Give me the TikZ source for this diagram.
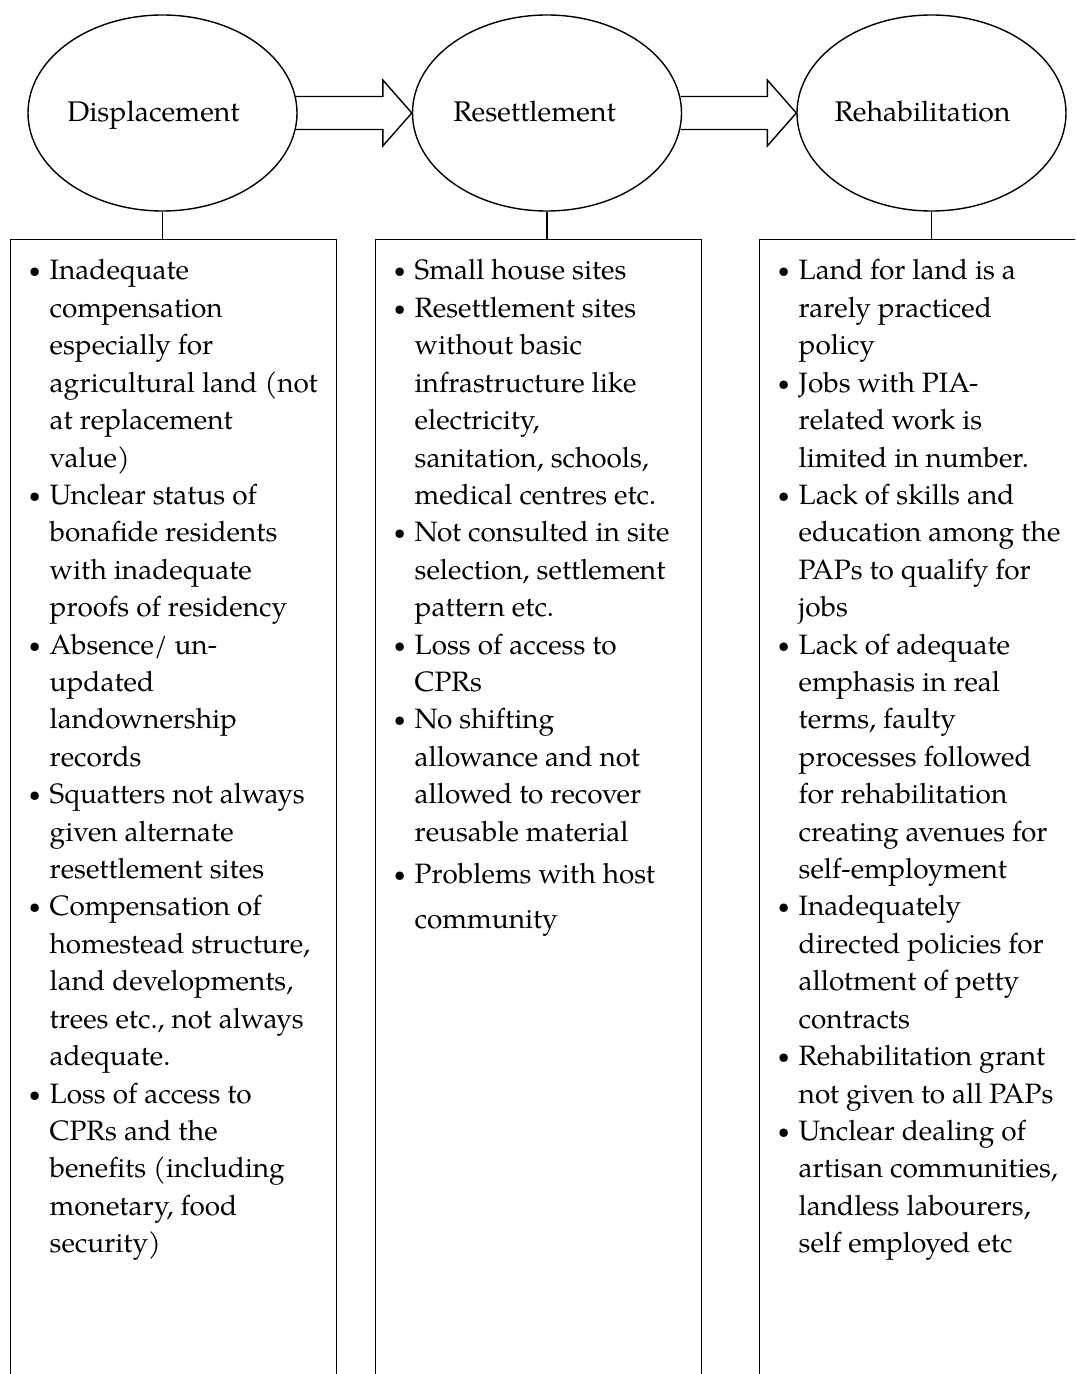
\documentclass[tikz,border=0pt]{standalone}
\usepackage{fontspec}
\setmainfont{TeX Gyre Pagella}
\usetikzlibrary{shapes.geometric,calc}
\newcommand{\bul}{\llap{\makebox[7.5pt][l]{\makebox[0pt][c]{\raisebox{1pt}{\fontsize{10.5}{10}\selectfont\textbullet}}}}}
\begin{document}
\begin{tikzpicture}[x=0.5pt,y=-0.5pt,line width=0.7pt,
  stage/.style={draw,ellipse,inner sep=0pt,minimum width=134.5pt,minimum height=98pt},
  stagetxt/.style={anchor=base,inner sep=0pt,font=\fontsize{14.2}{17}\selectfont},
  listbox/.style={draw,rectangle,anchor=north west,inner sep=0pt,minimum width=163pt,minimum height=600pt},
  bodytxt/.style={anchor=base west,inner sep=0pt,font=\fontsize{14}{17}\selectfont},
  blockarrow/.style={draw,line join=miter}]
\useasboundingbox (0,0) rectangle (1075,1374);
\clip (0,0) rectangle (1075,1374);
% stages
\node[stage] (e1) at (162.5,113) {};
\node[stage] (e2) at (547,113) {};
\node[stage] (e3) at (931.5,113) {};
\node[stagetxt] (t1) at ($(e1.center)+(-9,9)$) {Displacement};
\node[stagetxt] (t2) at ($(e2.center)+(-12.5,9)$) {Resettlement};
\node[stagetxt] (t3) at ($(e3.center)+(-9,9)$) {Rehabilitation};
% block arrows
\draw[blockarrow] ($(e1.east)+(-1.5,-16.5)$) -- ($(e2.west)+(-29,-16.5)$) -- ($(e2.west)+(-29,-33)$) -- (e2.west)
  -- ($(e2.west)+(-29,33)$) -- ($(e2.west)+(-29,16.5)$) -- ($(e1.east)+(-1.5,16.5)$);
\draw[blockarrow] ($(e2.east)+(-1.5,-16.5)$) -- ($(e3.west)+(-29,-16.5)$) -- ($(e3.west)+(-29,-33)$) -- (e3.west)
  -- ($(e3.west)+(-29,33)$) -- ($(e3.west)+(-29,16.5)$) -- ($(e2.east)+(-1.5,16.5)$);
% boxes
\node[listbox] (b1) at (10,239) {};
\node[listbox] (b2) at (375,239) {};
\node[listbox] (b3) at (759,239) {};
\draw (e1.south) -- (e1.south |- b1.north);
\draw (e2.south) -- (e2.south |- b2.north);
\draw (e3.south) -- (e3.south |- b3.north);
% box 1 text
\foreach \t [count=\i] in {
 {\bul Inadequate},{compensation},{especially for},{agricultural land (not},{at replacement},{value)},
 {\bul Unclear status of},{bonafide residents},{with inadequate},{proofs of residency},
 {\bul Absence/ un-},{updated},{landownership},{records},
 {\bul Squatters not always},{given alternate},{resettlement sites},
 {\bul Compensation of},{homestead structure,},{land developments,},{trees etc., not always},{adequate.},
 {\bul Loss of access to},{CPRs and the},{benefits (including},{monetary, food},{security)}}
 \node[bodytxt] (pa\i) at ($(b1.north west)+(39,{41+37.41*(\i-1)})$) {\t};
% box 2 text
\foreach \t [count=\i] in {
 {\bul Small house sites},
 {\bul Resettlement sites},{without basic},{infrastructure like},{electricity,},{sanitation, schools,},{medical centres etc.},
 {\bul Not consulted in site},{selection, settlement},{pattern etc.},
 {\bul Loss of access to},{CPRs},
 {\bul No shifting},{allowance and not},{allowed to recover},{reusable material}}
 \node[bodytxt] (pb\i) at ($(b2.north west)+(39,{41+37.41*(\i-1)})$) {\t};
\node[bodytxt] (pb17) at ($(b2.north west)+(39,644)$) {\bul Problems with host};
\node[bodytxt] (pb18) at ($(b2.north west)+(39,689)$) {community};
% box 3 text
\foreach \t [count=\i] in {
 {\bul Land for land is a},{rarely practiced},{policy},
 {\bul Jobs with PIA-},{related work is},{limited in number.},
 {\bul Lack of skills and},{education among the},{PAPs to qualify for},{jobs},
 {\bul Lack of adequate},{emphasis in real},{terms, faulty},{processes followed},{for rehabilitation},{creating avenues for},{self-employment},
 {\bul Inadequately},{directed policies for},{allotment of petty},{contracts},
 {\bul Rehabilitation grant},{not given to all PAPs},
 {\bul Unclear dealing of},{artisan communities,},{landless labourers,},{self employed etc}}
 \node[bodytxt] (pc\i) at ($(b3.north west)+(39,{41+37.41*(\i-1)})$) {\t};
\end{tikzpicture}
\end{document}
